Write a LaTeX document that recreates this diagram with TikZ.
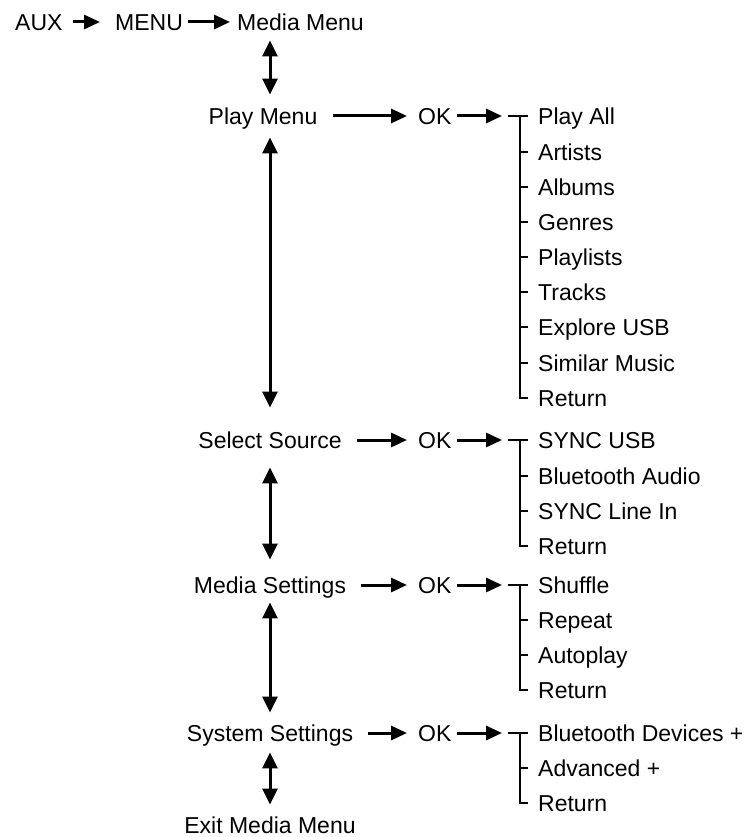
\documentclass[tikz,border=0pt]{standalone}
\usepackage{fontspec}
\setmainfont{Liberation Sans}
\usetikzlibrary{arrows.meta}

\begin{document}
\begin{tikzpicture}[x=1pt,y=-1pt,
  txt/.style={inner sep=0pt,text height=16.5pt,text depth=0pt,font=\fontsize{23}{27}\selectfont},
  arr/.style={line width=3pt,-{Triangle[length=16pt,width=14pt]}},
  dbl/.style={line width=3pt,{Triangle[length=16pt,width=15pt]}-{Triangle[length=16pt,width=15pt]}},
  tee/.style={line width=1.3pt}]
\useasboundingbox (0,0) rectangle (751,837);
% ---- top line ----
\node[txt,anchor=west] (aux) at (15,22) {AUX};
\node[txt,anchor=west] (menu) at (115,22) {MENU};
\node[txt,anchor=west] (mm) at (237,22) {Media Menu};
\draw[arr,shorten <=10pt,shorten >=15pt] (aux) -- (menu);
\draw[arr,shorten <=5pt,shorten >=7pt] (menu) -- (mm);
% ---- main column ----
\node[txt] (play) at (263,116) {Play Menu};
\node[txt] (src) at (270,440) {Select Source};
\node[txt] (mset) at (270,585) {Media Settings};
\node[txt] (sys) at (270,733) {System Settings};
\node[txt] (exit) at (270,825) {Exit Media Menu};
\draw[dbl,shorten <=10pt,shorten >=13pt] (mm.south -| src) -- (play.north -| src);
\draw[dbl,shorten <=13pt,shorten >=24pt] (play.south -| src) -- (src.north);
\draw[dbl,shorten <=19pt,shorten >=17pt] (src.south) -- (mset.north);
\draw[dbl,shorten <=9pt,shorten >=12pt] (mset.south) -- (sys.north);
\draw[dbl,shorten <=11pt,shorten >=12pt] (sys.south) -- (exit.north);
% ---- OK column ----
\node[txt,anchor=west] (ok1) at (418,116) {OK};
\node[txt,anchor=west] (ok2) at (418,440) {OK};
\node[txt,anchor=west] (ok3) at (418,585) {OK};
\node[txt,anchor=west] (ok4) at (418,733) {OK};
\draw[arr,shorten <=15pt,shorten >=11pt] (play) -- (ok1);
\draw[arr,shorten <=15pt,shorten >=11pt] (src) -- (ok2);
\draw[arr,shorten <=15pt,shorten >=11pt] (mset) -- (ok3);
\draw[arr,shorten <=15pt,shorten >=11pt] (sys) -- (ok4);
% ---- (1) play menu list ----
\node[txt,anchor=west] (pa) at (538,116) {Play All};
\node[txt,anchor=west] (art) at (538,152) {Artists};
\node[txt,anchor=west] (alb) at (538,187) {Albums};
\node[txt,anchor=west] (gen) at (538,222) {Genres};
\node[txt,anchor=west] (pls) at (538,257) {Playlists};
\node[txt,anchor=west] (trk) at (538,292) {Tracks};
\node[txt,anchor=west] (exu) at (538,327) {Explore USB};
\node[txt,anchor=west] (sim) at (538,363) {Similar Music};
\node[txt,anchor=west] (ret1) at (538,398) {Return};
\coordinate (t1) at ([xshift=-36pt]pa.west);
\draw[arr,shorten <=5pt] (ok1) -- (t1);
\draw[tee] ([xshift=-30pt]pa.west) -- ([xshift=-10pt]pa.west);
\draw[tee] ([xshift=-18pt]pa.west) |- ([xshift=-10pt]ret1.west);
\draw[tee] ([xshift=-18pt]art.west) -- ([xshift=-10pt]art.west);
\draw[tee] ([xshift=-18pt]alb.west) -- ([xshift=-10pt]alb.west);
\draw[tee] ([xshift=-18pt]gen.west) -- ([xshift=-10pt]gen.west);
\draw[tee] ([xshift=-18pt]pls.west) -- ([xshift=-10pt]pls.west);
\draw[tee] ([xshift=-18pt]trk.west) -- ([xshift=-10pt]trk.west);
\draw[tee] ([xshift=-18pt]exu.west) -- ([xshift=-10pt]exu.west);
\draw[tee] ([xshift=-18pt]sim.west) -- ([xshift=-10pt]sim.west);
% ---- (2) source list ----
\node[txt,anchor=west] (susb) at (538,440) {SYNC USB};
\node[txt,anchor=west] (bta) at (538,476) {Bluetooth Audio};
\node[txt,anchor=west] (sli) at (538,511) {SYNC Line In};
\node[txt,anchor=west] (ret2) at (538,546) {Return};
\coordinate (t2) at ([xshift=-36pt]susb.west);
\draw[arr,shorten <=5pt] (ok2) -- (t2);
\draw[tee] ([xshift=-30pt]susb.west) -- ([xshift=-10pt]susb.west);
\draw[tee] ([xshift=-18pt]susb.west) |- ([xshift=-10pt]ret2.west);
\draw[tee] ([xshift=-18pt]bta.west) -- ([xshift=-10pt]bta.west);
\draw[tee] ([xshift=-18pt]sli.west) -- ([xshift=-10pt]sli.west);
% ---- (3) media settings list ----
\node[txt,anchor=west] (shf) at (538,585) {Shuffle};
\node[txt,anchor=west] (rep) at (538,620) {Repeat};
\node[txt,anchor=west] (aut) at (538,655) {Autoplay};
\node[txt,anchor=west] (ret3) at (538,690) {Return};
\coordinate (t3) at ([xshift=-36pt]shf.west);
\draw[arr,shorten <=5pt] (ok3) -- (t3);
\draw[tee] ([xshift=-30pt]shf.west) -- ([xshift=-10pt]shf.west);
\draw[tee] ([xshift=-18pt]shf.west) |- ([xshift=-10pt]ret3.west);
\draw[tee] ([xshift=-18pt]rep.west) -- ([xshift=-10pt]rep.west);
\draw[tee] ([xshift=-18pt]aut.west) -- ([xshift=-10pt]aut.west);
% ---- (4) system settings list ----
\node[txt,anchor=west] (btd) at (538,733) {Bluetooth Devices +};
\node[txt,anchor=west] (adv) at (538,768) {Advanced +};
\node[txt,anchor=west] (ret4) at (538,803) {Return};
\coordinate (t4) at ([xshift=-36pt]btd.west);
\draw[arr,shorten <=5pt] (ok4) -- (t4);
\draw[tee] ([xshift=-30pt]btd.west) -- ([xshift=-10pt]btd.west);
\draw[tee] ([xshift=-18pt]btd.west) |- ([xshift=-10pt]ret4.west);
\draw[tee] ([xshift=-18pt]adv.west) -- ([xshift=-10pt]adv.west);
\end{tikzpicture}
\end{document}
